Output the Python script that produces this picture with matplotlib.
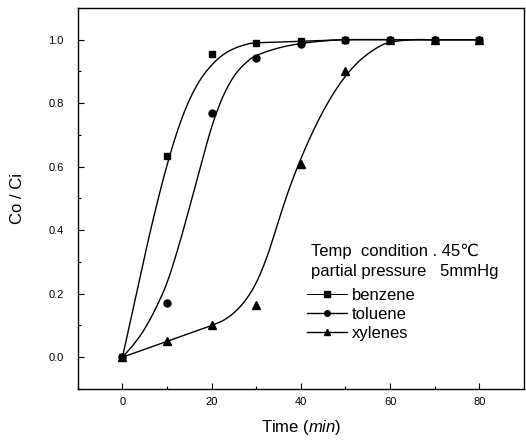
import numpy as np
import matplotlib.pyplot as plt
from matplotlib.lines import Line2D

plt.rcParams['font.family'] = ['Liberation Sans', 'DejaVu Sans']
plt.rcParams['mathtext.fontset'] = 'custom'
plt.rcParams['mathtext.it'] = 'Liberation Sans:italic'
plt.rcParams['mathtext.rm'] = 'Liberation Sans'

# measured points
t = [0, 10, 20, 30, 40, 50, 60, 70, 80]
benzene = [0.0, 0.635, 0.955, 0.99, 0.995, 1.0, 1.0, 1.0, 1.0]
toluene = [0.0, 0.171, 0.77, 0.943, 0.985, 1.0, 1.0, 1.0, 1.0]
xylenes = [0.0, 0.05, 0.10, 0.163, 0.61, 0.90, 1.0, 1.0, 1.0]

# fitted curves
benz_fit_t = [0, 2.5, 5, 7.5, 10, 12.5, 15, 17.5, 20, 22.5, 25, 27.5, 30, 40, 50, 60, 70, 80]
benz_fit_y = [0, 0.16, 0.32, 0.47, 0.605, 0.72, 0.81, 0.875, 0.92, 0.952, 0.972, 0.984, 0.99, 0.995, 1.0, 1.0, 1.0, 1.0]
tol_fit_t = [0, 2.5, 5, 7.5, 10, 12.5, 15, 17.5, 20, 22.5, 25, 27.5, 30, 35, 40, 45, 50, 60, 70, 80]
tol_fit_y = [0, 0.04, 0.09, 0.155, 0.235, 0.345, 0.47, 0.6, 0.725, 0.82, 0.885, 0.925, 0.95, 0.974, 0.988, 0.996, 1.0, 1.0, 1.0, 1.0]
xyl_fit_t = [0, 10, 20, 22.5, 25, 27.5, 30, 32.5, 35, 37.5, 40, 42.5, 45, 47.5, 50, 52.5, 55, 57.5, 60, 65, 70, 80]
xyl_fit_y = [0, 0.05, 0.10, 0.115, 0.14, 0.178, 0.235, 0.32, 0.43, 0.535, 0.625, 0.705, 0.775, 0.835, 0.885, 0.925, 0.955, 0.978, 0.992, 1.0, 1.0, 1.0]


def smooth(xs, ys, n=12):
    # catmull-rom through the read points, just for drawing
    p = np.column_stack([xs, ys]).astype(float)
    p = np.vstack([p[0], p, p[-1]])
    out = []
    s = np.linspace(0, 1, n, endpoint=False)[:, None]
    for i in range(1, len(p) - 2):
        p0, p1, p2, p3 = p[i - 1], p[i], p[i + 1], p[i + 2]
        seg = 0.5 * ((2 * p1) + (-p0 + p2) * s + (2 * p0 - 5 * p1 + 4 * p2 - p3) * s ** 2
                     + (-p0 + 3 * p1 - 3 * p2 + p3) * s ** 3)
        out.append(seg)
    out.append(p[-2][None, :])
    out = np.vstack(out)
    return out[:, 0], out[:, 1]


fig = plt.figure(figsize=(5.26, 4.43), dpi=100)
ax = fig.add_axes([0.148, 0.122, 0.848, 0.860])

lw = 1.0
for xs, ys in [(benz_fit_t, benz_fit_y), (tol_fit_t, tol_fit_y)]:
    sx, sy = smooth(xs, ys)
    ax.plot(sx, sy, color='k', lw=lw)
# xylenes: straight start, then the curve
ax.plot(xyl_fit_t[:3], xyl_fit_y[:3], color='k', lw=lw)
sx, sy = smooth(xyl_fit_t[2:], xyl_fit_y[2:])
ax.plot(sx, sy, color='k', lw=lw)

ax.plot(t, xylenes, ls='none', marker='^', color='k', ms=5.5)
ax.plot(t, toluene, ls='none', marker='o', color='k', ms=5)
ax.plot(t, benzene, ls='none', marker='s', color='k', ms=5)

ax.set_xlim(-10, 90)
ax.set_ylim(-0.1, 1.1)
ax.set_xticks([0, 20, 40, 60, 80])
ax.set_xticks(np.arange(-10, 91, 10), minor=True)
ax.set_yticks([0, 0.2, 0.4, 0.6, 0.8, 1.0])
ax.set_yticks(np.arange(-0.1, 1.11, 0.1), minor=True)
ax.set_yticklabels(['0.0', '0.2', '0.4', '0.6', '0.8', '1.0'])
ax.tick_params(which='both', direction='in', labelsize=8, width=0.8)
ax.tick_params(which='major', length=4)
ax.tick_params(which='minor', length=2.5)
ax.tick_params(axis='y', pad=10)
ax.tick_params(axis='x', pad=6)
for s in ax.spines.values():
    s.set_linewidth(1.0)

ax.set_ylabel('Co / Ci', fontsize=12, labelpad=17)
ax.set_xlabel(r'Time $(\mathit{min})$', fontsize=12, labelpad=8)

ax.text(0.522, 0.36, 'Temp  condition . 45\u2103', transform=ax.transAxes,
        fontsize=12, va='center')
ax.text(0.522, 0.307, 'partial pressure   5mmHg', transform=ax.transAxes,
        fontsize=12, va='center')

handles = [
    Line2D([], [], color='k', lw=0.7, marker='s', ms=5),
    Line2D([], [], color='k', lw=1.0, marker='o', ms=4),
    Line2D([], [], color='k', lw=1.0, marker='^', ms=5),
]
ax.legend(handles, ['benzene', 'toluene', 'xylenes'], loc='upper left',
          bbox_to_anchor=(0.514, 0.265), frameon=False, fontsize=12,
          handlelength=2.4, handletextpad=0.3, labelspacing=0.25,
          borderaxespad=0, borderpad=0)

fig.savefig('out.png', dpi=100)
